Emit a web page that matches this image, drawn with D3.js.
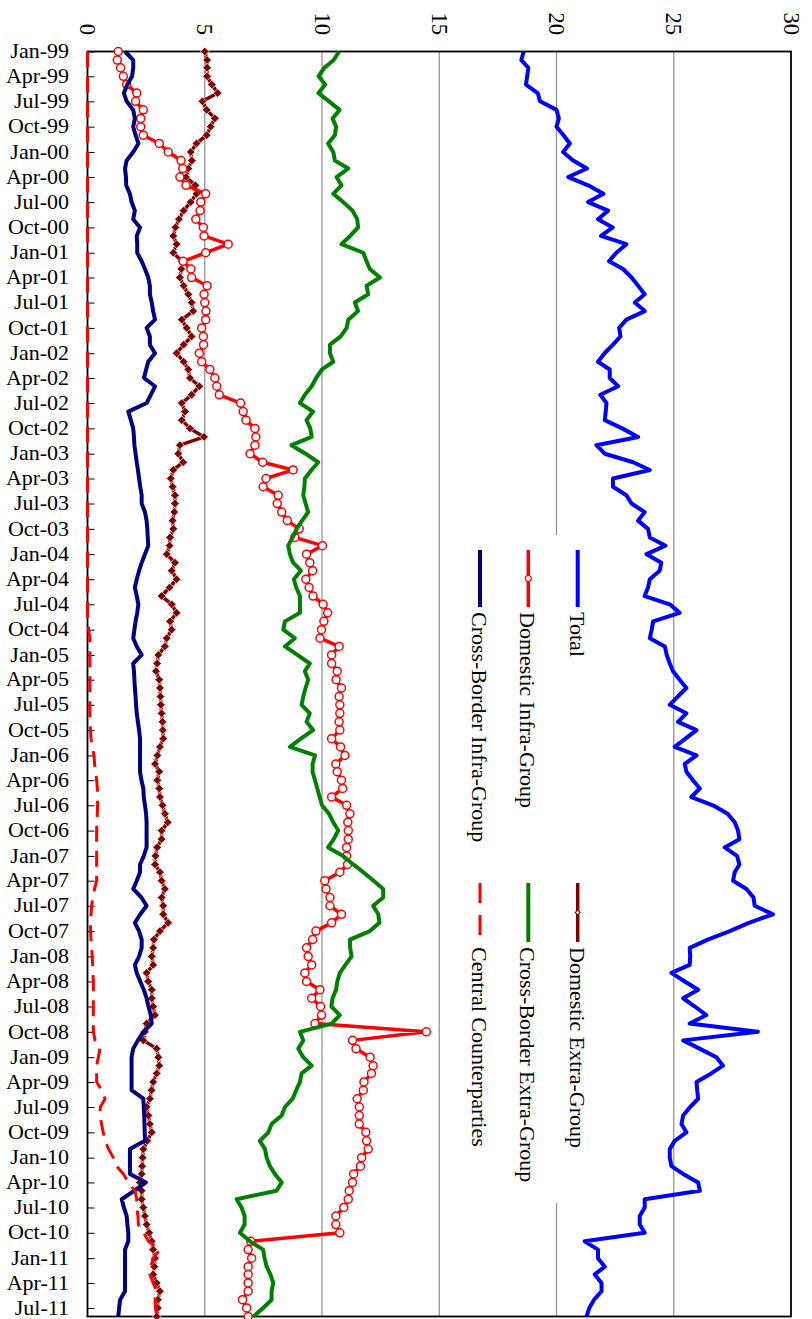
<!DOCTYPE html>
<html>
<head>
<meta charset="utf-8">
<script src="https://cdn.jsdelivr.net/npm/d3@7"></script>
<style>
  body { margin: 0; background: #fff; }
  svg { display: block; }
  text { font-family: "Liberation Serif", "Times New Roman", serif; fill: #000; }
</style>
</head>
<body>
<svg id="chart" width="812" height="1319"></svg>
<script>
// monthly, Jan-99 .. Aug-11 (one row per year)
let total = [
  18.6, 18.5, 18.8, 18.75, 18.7, 19.2, 19.3, 20.0, 20.1, 20.0, 20.3, 20.57,
  20.28, 20.71, 21.3, 20.5, 21.35, 22.0, 21.35, 22.2, 21.77, 22.4, 21.9, 22.98,
  22.55, 22.24, 22.84, 23.2, 23.48, 23.76, 23.34, 23.76, 22.98, 22.67, 22.73, 22.41,
  22.05, 21.77, 22.27, 22.27, 22.63, 21.87, 22.13, 22.1, 22.06, 22.8, 23.48, 21.7,
  22.06, 23.27, 23.98, 22.41, 22.41, 22.98, 23.2, 23.76, 23.48, 23.9, 23.98, 24.65,
  23.84, 24.47, 24.4, 23.98, 23.9, 23.76, 24.83, 25.25, 24.12, 24.06, 23.98, 24.62,
  24.7, 24.83, 24.97, 25.25, 25.54, 25.17, 24.83, 25.54, 25.18, 25.97, 25.5, 25.04,
  25.97, 25.47, 25.54, 25.82, 26.11, 25.75, 26.67, 27.3, 27.6, 27.74, 27.8, 27.17,
  27.7, 27.8, 27.6, 27.53, 28.1, 28.4, 28.45, 29.23, 28.2, 27.39, 26.45, 25.68,
  25.7, 25.68, 24.9, 25.47, 26.04, 25.4, 25.9, 26.39, 25.68, 28.59, 25.4, 26.1,
  26.82, 27.1, 26.6, 25.97, 26.0, 26.04, 25.7, 25.4, 25.33, 25.54, 25.04, 24.83,
  24.83, 24.9, 25.4, 26.04, 26.11, 23.76, 23.76, 23.55, 23.55, 23.76, 21.2, 21.77,
  21.77, 22.06, 21.63, 21.92, 21.92, 21.6, 21.4, 21.28
]

let domesticExtra = [
  5.0, 5.1, 5.1, 5.1, 5.3, 5.55, 4.9, 5.08, 5.43, 5.25, 5.08, 4.65,
  4.4, 4.45, 4.3, 4.2, 4.6, 4.65, 4.4, 4.1, 3.9, 3.75, 3.66, 3.8,
  3.66, 4.02, 4.0, 3.94, 4.1, 4.3, 4.44, 4.51, 4.02, 4.23, 4.44, 4.1,
  3.8, 4.1, 4.3, 4.37, 4.77, 4.44, 4.02, 4.16, 4.02, 4.37, 4.97, 3.94,
  3.87, 4.08, 3.66, 3.55, 3.63, 3.73, 3.73, 3.7, 3.63, 3.66, 3.52, 3.5,
  3.38, 3.73, 3.59, 3.8, 3.5, 3.16, 3.59, 3.8, 3.52, 3.59, 3.38, 3.3,
  3.02, 2.97, 2.92, 3.06, 3.09, 3.11, 3.13, 3.16, 3.2, 3.21, 3.23, 3.09,
  2.98, 2.88, 3.06, 2.98, 3.06, 3.09, 3.2, 3.3, 3.42, 3.16, 3.16, 2.97,
  2.9, 2.88, 3.09, 3.16, 3.3, 3.16, 3.23, 3.23, 3.44, 3.09, 2.83, 2.8,
  2.74, 2.8, 2.52, 2.59, 2.74, 2.74, 2.8, 2.88, 2.52, 2.45, 2.38, 2.95,
  3.02, 3.06, 2.95, 2.8, 2.73, 2.66, 2.52, 2.6, 2.66, 2.74, 2.55, 2.38,
  2.35, 2.33, 2.31, 2.24, 2.31, 2.31, 2.38, 2.45, 2.52, 2.63, 2.74, 2.8,
  2.88, 2.85, 2.8, 2.95, 3.09, 3.0, 3.0, 2.95
]

let domesticInfra = [
  1.31, 1.27, 1.41, 1.53, 1.67, 2.1, 2.05, 2.38, 2.27, 2.27, 2.38, 3.06,
  3.44, 3.99, 4.06, 3.94, 4.2, 5.04, 4.83, 4.8, 4.62, 4.94, 4.97, 6.0,
  5.04, 4.08, 4.41, 4.44, 5.1, 4.97, 5.0, 5.05, 5.04, 4.87, 4.94, 4.95,
  4.77, 4.87, 5.22, 5.43, 5.51, 5.62, 6.53, 6.64, 6.76, 7.14, 7.18, 7.14,
  6.93, 7.47, 8.77, 7.61, 7.49, 8.13, 8.09, 8.28, 8.52, 9.03, 8.84, 10.02,
  9.34, 9.48, 9.6, 9.31, 9.45, 9.62, 10.05, 10.24, 10.08, 9.98, 9.91, 10.73,
  10.41, 10.41, 10.65, 10.6, 10.83, 10.73, 10.76, 10.76, 10.73, 10.76, 10.41, 10.79,
  10.98, 10.59, 10.65, 10.83, 10.88, 10.41, 11.05, 11.19, 11.1, 11.12, 11.12, 11.05,
  11.05, 11.09, 10.76, 10.12, 10.17, 10.34, 10.34, 10.83, 10.41, 9.74, 9.6, 9.34,
  9.41, 9.56, 9.27, 9.34, 9.91, 9.56, 9.94, 9.98, 9.7, 14.45, 11.3, 11.45,
  12.05, 12.18, 12.11, 11.79, 11.76, 11.5, 11.59, 11.59, 11.59, 11.87, 11.9, 11.97,
  11.69, 11.64, 11.35, 11.3, 11.16, 11.12, 10.93, 10.59, 10.59, 10.76, 6.96, 6.85,
  7.0, 6.85, 6.85, 6.85, 6.85, 6.61, 6.79, 6.85
]

let crossExtra = [
  10.73, 10.5, 10.1, 9.85, 10.14, 9.85, 10.3, 10.75, 10.45, 10.6, 10.55, 10.26,
  10.48, 10.55, 11.12, 10.62, 10.83, 10.48, 10.9, 11.3, 11.5, 11.54, 11.2, 10.83,
  11.76, 11.9, 12.04, 12.47, 11.9, 11.97, 11.4, 11.54, 11.12, 11.05, 10.8, 10.34,
  10.34, 10.48, 10.0, 9.75, 9.56, 9.27, 9.06, 9.62, 9.34, 9.5, 9.56, 8.7,
  9.3, 9.84, 9.55, 9.27, 9.25, 9.2, 9.3, 9.41, 9.15, 8.92, 8.75, 8.56,
  8.63, 8.77, 9.1, 8.8, 8.9, 9.06, 9.06, 9.06, 8.42, 8.35, 8.84, 8.42,
  8.95, 9.48, 9.27, 9.41, 9.3, 9.2, 9.13, 9.48, 9.34, 9.62, 9.1, 8.63,
  9.7, 9.6, 9.6, 9.7, 9.8, 9.9, 10.0, 10.3, 10.48, 10.69, 10.5, 10.26,
  10.9, 11.33, 11.76, 12.2, 12.61, 12.61, 12.18, 12.4, 12.45, 12.04, 11.19, 11.2,
  11.26, 11.0, 10.76, 10.65, 10.6, 10.45, 10.4, 10.76, 10.41, 9.06, 9.2, 8.99,
  9.2, 9.56, 9.13, 9.06, 8.9, 8.75, 8.42, 8.28, 7.85, 7.71, 7.35, 7.57,
  7.64, 7.78, 7.99, 8.28, 8.06, 6.36, 6.57, 6.7, 6.7, 6.5, 6.93, 7.49,
  7.55, 7.64, 7.8, 7.92, 7.85, 7.85, 7.49, 7.07
]

let crossInfra = [
  1.6, 1.95, 1.95, 1.9, 1.7, 1.55, 1.67, 1.95, 2.02, 1.95, 2.05, 2.17,
  1.95, 1.67, 1.6, 1.64, 1.65, 1.81, 1.88, 2.02, 1.95, 2.24, 2.1, 2.12,
  2.12, 2.31, 2.45, 2.59, 2.66, 2.66, 2.74, 2.8, 2.88, 2.52, 2.66, 2.66,
  2.88, 2.59, 2.5, 2.41, 2.88, 2.7, 2.52, 1.74, 1.85, 1.95, 1.98, 2.0,
  2.05, 2.1, 2.15, 2.2, 2.25, 2.31, 2.31, 2.45, 2.52, 2.55, 2.57, 2.59,
  2.45, 2.31, 2.2, 2.1, 2.02, 2.1, 2.17, 2.12, 2.05, 2.0, 1.95, 2.1,
  2.31, 1.95, 1.98, 2.0, 2.02, 2.05, 2.07, 2.1, 2.15, 2.2, 2.24, 2.24,
  2.24, 2.24, 2.24, 2.3, 2.38, 2.4, 2.45, 2.5, 2.52, 2.52, 2.52, 2.52,
  2.4, 2.24, 2.24, 2.1, 1.95, 2.3, 2.52, 2.25, 2.02, 2.2, 2.31, 2.31,
  2.2, 2.02, 2.1, 2.25, 2.4, 2.52, 2.6, 2.7, 2.74, 2.38, 2.15, 1.95,
  1.88, 1.88, 1.88, 1.88, 1.88, 2.38, 2.4, 2.42, 2.43, 2.44, 2.45, 1.81,
  1.81, 1.81, 1.81, 2.49, 2.0, 1.46, 1.55, 1.67, 1.7, 1.74, 1.74, 1.6,
  1.6, 1.6, 1.6, 1.6, 1.6, 1.39, 1.35, 1.31
]

let centralCp = [
  0, 0, 0, 0, 0, 0, 0, 0, 0, 0, 0, 0,
  0, 0, 0, 0, 0, 0, 0, 0, 0, 0, 0, 0,
  0, 0, 0, 0, 0, 0, 0, 0, 0, 0, 0, 0,
  0, 0, 0, 0, 0, 0, 0, 0, 0, 0, 0, 0,
  0, 0, 0, 0, 0, 0, 0, 0, 0, 0, 0, 0,
  0, 0, 0, 0, 0, 0, 0, 0, 0, 0.05, 0.1, 0.1,
  0.1, 0.1, 0.1, 0.1, 0.1, 0.1, 0.1, 0.1, 0.1, 0.13, 0.15, 0.2,
  0.28, 0.3, 0.35, 0.39, 0.42, 0.43, 0.43, 0.42, 0.4, 0.39, 0.39, 0.39,
  0.39, 0.39, 0.39, 0.39, 0.3, 0.22, 0.18, 0.15, 0.13, 0.13, 0.15, 0.18,
  0.2, 0.22, 0.23, 0.25, 0.25, 0.25, 0.25, 0.25, 0.25, 0.25, 0.32, 0.53,
  0.46, 0.39, 0.39, 0.39, 0.6, 0.75, 0.55, 0.53, 0.6, 0.67, 0.75, 0.9,
  1.1, 1.24, 1.53, 1.74, 2.02, 2.1, 2.1, 2.15, 2.17, 2.4, 2.6, 3.09,
  2.8, 2.7, 2.66, 2.8, 2.95, 2.88, 2.9, 2.95
]

let valueTicks = [0, 5, 10, 15, 20, 25, 30]
let gridValues = [5, 10, 15, 20, 25]

let months = d3.timeMonth.range(new Date(1999, 0, 1), new Date(2011, 8, 1))
let quarterTicks = months.filter((d, i) => i % 3 == 0)

let series = [
  { name: 'Total', values: total, color: '#0000ff', width: 4 },
  { name: 'Domestic Extra-Group', values: domesticExtra, color: '#800000', width: 3.5, marker: 'diamond' },
  { name: 'Domestic Infra-Group', values: domesticInfra, color: '#ff0000', width: 3.5, marker: 'circle' },
  { name: 'Cross-Border Extra-Group', values: crossExtra, color: '#008000', width: 4 },
  { name: 'Cross-Border Infra-Group', values: crossInfra, color: '#000080', width: 4 },
  { name: 'Central Counterparties', values: centralCp, color: '#ff0000', width: 3, dash: '16,9' }
]

// plot area (the chart is turned a quarter turn: values run left->right, time runs down)
let box = { left: 87.5, right: 791, top: 51.5, bottom: 1316.5 }

let x = d3.scaleLinear().domain([0, 30]).range([box.left, box.right])
let y = d3.scaleTime().domain([months[0], months[months.length - 1]]).range([box.top, box.bottom])

let svg = d3.select('#chart')
svg.append('rect').attr('width', 812).attr('height', 1319).attr('fill', '#fff')

// gridlines
svg.append('g').selectAll('line')
  .data(gridValues)
  .join('line')
  .attr('x1', d => x(d)).attr('x2', d => x(d))
  .attr('y1', box.top).attr('y2', box.bottom)
  .attr('stroke', '#8c8c8c')
  .attr('stroke-width', 1.2)

// value labels along the top, turned like the rest of the chart
svg.append('g').selectAll('text')
  .data(valueTicks)
  .join('text')
  .attr('transform', d => `translate(${x(d) - 7.5},35) rotate(90)`)
  .attr('text-anchor', 'end')
  .style('font-size', '22.5px')
  .text(d => d)

// date axis on the left
let yAxis = d3.axisLeft(y)
  .tickValues(quarterTicks)
  .tickFormat(d3.timeFormat('%b-%y'))
  .tickSizeInner(-7)
  .tickSizeOuter(0)
  .tickPadding(18.5)

svg.append('g')
  .attr('transform', `translate(${box.left},0)`)
  .call(yAxis)
  .call(g => g.select('.domain').remove())
  .call(g => g.selectAll('text')
    .attr('font-family', null)
    .attr('dy', '0.28em')
    .style('font-size', '22px'))
  .call(g => g.selectAll('line').attr('stroke', '#000'))

// frame
svg.append('rect')
  .attr('x', box.left).attr('y', box.top)
  .attr('width', box.right - box.left)
  .attr('height', box.bottom - box.top)
  .attr('fill', 'none')
  .attr('stroke', '#000')
  .attr('stroke-width', 1.8)

// legend backdrop hides the gridline behind it
svg.append('rect')
  .attr('x', 447).attr('y', 535)
  .attr('width', 153).attr('height', 668)
  .attr('fill', '#fff')

let line = d3.line()
  .x(d => x(d.v))
  .y(d => y(d.date))

let diamond = d3.symbol(d3.symbolSquare, 38)

for (let s of series) {
  let pts = s.values.map((v, i) => ({ v, date: months[i] }))
  let g = svg.append('g')
  g.append('path')
    .datum(pts)
    .attr('d', line)
    .attr('fill', 'none')
    .attr('stroke', s.color)
    .attr('stroke-width', s.width)
    .attr('stroke-linejoin', 'round')
    .attr('stroke-dasharray', s.dash || null)

  if (s.marker == 'circle') {
    g.selectAll('circle')
      .data(pts)
      .join('circle')
      .attr('cx', d => x(d.v))
      .attr('cy', d => y(d.date))
      .attr('r', 4)
      .attr('fill', '#fff')
      .attr('stroke', s.color)
      .attr('stroke-width', 1.5)
  }
  if (s.marker == 'diamond') {
    g.selectAll('path.mk')
      .data(pts)
      .join('path')
      .attr('class', 'mk')
      .attr('d', diamond)
      .attr('transform', d => `translate(${x(d.v)},${y(d.date)}) rotate(45)`)
      .attr('fill', s.color)
      .attr('stroke', '#fff')
      .attr('stroke-width', 0.7)
  }
}

// legend: three columns, two rows (turned)
let legendCols = [577.7, 528.3, 480]
let legendRows = [{ y0: 550, y1: 607, ty: 612 }, { y0: 883, y1: 942, ty: 947 }]
let legendOrder = [
  ['Total', 0, 0], ['Domestic Infra-Group', 1, 0], ['Cross-Border Infra-Group', 2, 0],
  ['Domestic Extra-Group', 0, 1], ['Cross-Border Extra-Group', 1, 1], ['Central Counterparties', 2, 1]
]

let legend = svg.append('g')
legendOrder.forEach(([name, c, r]) => {
  let s = series.find(t => t.name == name)
  let lx = legendCols[c]
  let row = legendRows[r]
  legend.append('line')
    .attr('x1', lx).attr('x2', lx)
    .attr('y1', row.y0).attr('y2', row.y1)
    .attr('stroke', s.color)
    .attr('stroke-width', s.width)
    .attr('stroke-dasharray', s.dash ? '20,12' : null)
  let my = (row.y0 + row.y1) / 2
  if (s.marker == 'circle') {
    legend.append('circle')
      .attr('cx', lx).attr('cy', my).attr('r', 3)
      .attr('fill', '#fff').attr('stroke', s.color).attr('stroke-width', 1.2)
  }
  if (s.marker == 'diamond') {
    legend.append('path')
      .attr('d', d3.symbol(d3.symbolSquare, 12))
      .attr('transform', `translate(${lx},${my}) rotate(45)`)
      .attr('fill', '#fff').attr('stroke', s.color).attr('stroke-width', 1)
  }
  legend.append('text')
    .attr('transform', `translate(${lx - 8},${row.ty}) rotate(90)`)
    .style('font-size', '22px')
    .text(name)
})
</script>
</body>
</html>
